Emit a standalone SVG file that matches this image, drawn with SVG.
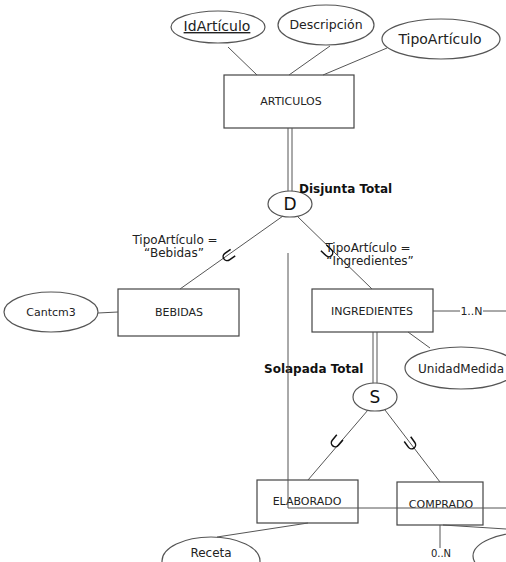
<svg xmlns="http://www.w3.org/2000/svg" width="506" height="562" viewBox="0 0 506 562">
<style>
.bg{fill:#fff}
.ent{fill:#fff;stroke:#444;stroke-width:1.2}
.att{fill:#fff;stroke:#555;stroke-width:1.2}
.ln{stroke:#555;stroke-width:1;fill:none}
.sub{stroke:#111;stroke-width:1.5;fill:none}
text{font-family:"DejaVu Sans","Liberation Sans",sans-serif;fill:#222}
.t10{font-size:10px}
.t11{font-size:11px}
.t12{font-size:12px}
.t13{font-size:12.5px}
.t14{font-size:14px}
.b{font-weight:bold;font-size:12px;fill:#111}
.big{font-size:17px;fill:#111}
</style>
<defs>
<path id="u" d="M-4,-6 L-4,1 A4,4 0 0 0 4,1 L4,-6"/>
</defs>
<rect class="bg" x="0" y="0" width="506" height="562"/>
<g id="idarticulo">
<ellipse class="att" cx="218" cy="27" rx="47" ry="16"/>
<text class="t14" x="217" y="31" text-anchor="middle" text-decoration="underline">IdArtículo</text>
</g>
<g id="descripcion">
<ellipse class="att" cx="326" cy="25" rx="48" ry="20"/>
<text class="t13" x="326" y="29" text-anchor="middle">Descripción</text>
</g>
<g id="tipoarticulo">
<ellipse class="att" cx="441" cy="39" rx="59" ry="20"/>
<text class="t14" x="440" y="44" text-anchor="middle">TipoArtículo</text>
</g>
<g id="articulos">
<rect class="ent" x="224" y="75" width="130" height="53"/>
<text class="t11" x="291" y="105" text-anchor="middle">ARTICULOS</text>
</g>
<g id="disjunta">
<ellipse class="att" cx="290" cy="204" rx="22" ry="13"/>
<text class="big" x="290" y="210" text-anchor="middle">D</text>
<text class="b" x="299" y="193">Disjunta Total</text>
</g>
<g id="cantcm3">
<ellipse class="att" cx="51" cy="312" rx="47" ry="20"/>
<text class="t11" x="51" y="316" text-anchor="middle">Cantcm3</text>
</g>
<g id="bebidas">
<rect class="ent" x="118" y="289" width="121" height="47"/>
<text class="t11" x="179" y="316" text-anchor="middle">BEBIDAS</text>
</g>
<g id="ingredientes">
<rect class="ent" x="312" y="289" width="121" height="43"/>
<text class="t11" x="372" y="315" text-anchor="middle">INGREDIENTES</text>
</g>
<g id="unidadmedida">
<ellipse class="att" cx="461" cy="368" rx="56" ry="21"/>
<text class="t12" x="461" y="373" text-anchor="middle">UnidadMedida</text>
</g>
<g id="solapada">
<ellipse class="att" cx="375" cy="397" rx="22" ry="14"/>
<text class="big" x="375" y="403" text-anchor="middle">S</text>
<text class="b" x="264" y="373">Solapada Total</text>
</g>
<g id="elaborado">
<rect class="ent" x="257" y="480" width="101" height="43"/>
<text class="t11" x="307" y="505" text-anchor="middle">ELABORADO</text>
</g>
<g id="comprado">
<rect class="ent" x="397" y="482" width="86" height="43"/>
<text class="t11" x="441" y="508" text-anchor="middle">COMPRADO</text>
</g>
<g id="receta">
<ellipse class="att" cx="211" cy="561" rx="49" ry="24"/>
<text class="t12" x="211" y="557" text-anchor="middle">Receta</text>
</g>
<g id="atributo-comprado">
<ellipse class="att" cx="530" cy="556" rx="57" ry="24"/>
</g>
<g id="connectors">
<line class="ln" x1="228" y1="47" x2="257" y2="75"/>
<line class="ln" x1="330" y1="46" x2="289" y2="75"/>
<line class="ln" x1="387" y1="48" x2="323" y2="75"/>
<line class="ln" x1="288" y1="128" x2="288" y2="191"/>
<line class="ln" x1="292" y1="128" x2="292" y2="191"/>
<line class="ln" x1="283" y1="216" x2="180" y2="289"/>
<line class="ln" x1="297" y1="216" x2="372" y2="289"/>
<line class="ln" x1="98" y1="313" x2="118" y2="312"/>
<line class="ln" x1="433" y1="311" x2="460" y2="311"/>
<line class="ln" x1="483" y1="311" x2="506" y2="311"/>
<line class="ln" x1="408" y1="332" x2="430" y2="348"/>
<line class="ln" x1="373" y1="332" x2="373" y2="383"/>
<line class="ln" x1="377" y1="332" x2="377" y2="383"/>
<line class="ln" x1="368" y1="410" x2="308" y2="480"/>
<line class="ln" x1="385" y1="410" x2="440" y2="482"/>
<polyline class="ln" points="288,253 288,508 506,508"/>
<line class="ln" x1="308" y1="523" x2="217" y2="537"/>
<line class="ln" x1="440" y1="525" x2="440" y2="548"/>
<line class="ln" x1="443" y1="525" x2="506" y2="529"/>
<use href="#u" class="sub" transform="translate(228,256) rotate(55)"/>
<use href="#u" class="sub" transform="translate(328,252) rotate(-46)"/>
<use href="#u" class="sub" transform="translate(336,442) rotate(40)"/>
<use href="#u" class="sub" transform="translate(411,444) rotate(-36)"/>
<text class="t11" x="471.5" y="315" text-anchor="middle">1..N</text>
<text class="t10" x="441" y="557" text-anchor="middle">0..N</text>
<text class="t12" x="175" y="244" text-anchor="middle">TipoArtículo =</text>
<text class="t12" x="174" y="257" text-anchor="middle">“Bebidas”</text>
<text class="t12" x="368" y="252" text-anchor="middle">TipoArtículo =</text>
<text class="t12" x="370" y="265" text-anchor="middle">“Ingredientes”</text>
</g>
</svg>
